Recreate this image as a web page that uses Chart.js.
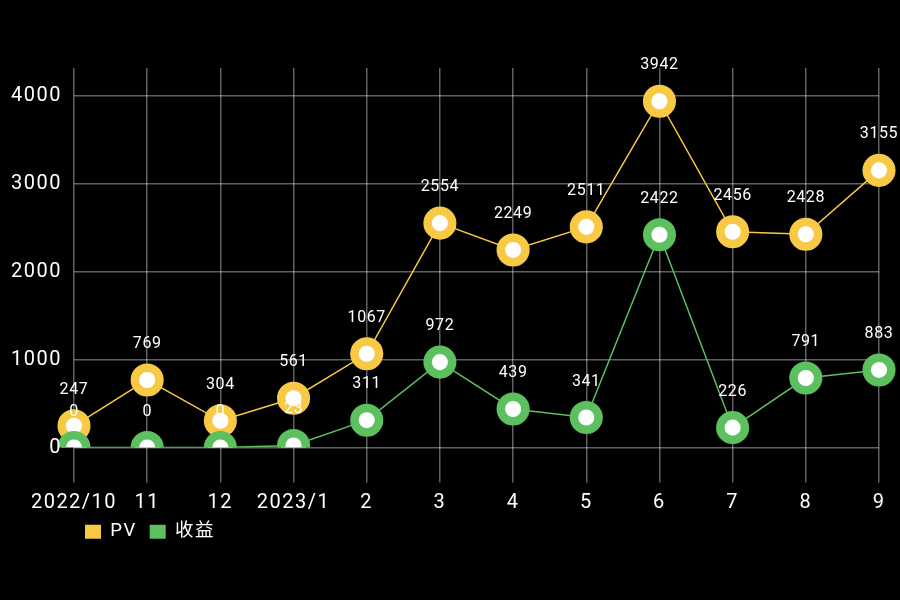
<!DOCTYPE html>
<html>
<head>
<meta charset="utf-8">
<script src="https://cdn.jsdelivr.net/npm/chart.js@4/dist/chart.umd.min.js"></script>
<style>
html,body{margin:0;padding:0;background:#000;}
#wrap{width:900px;height:600px;}
</style>
</head>
<body>
<div id="wrap"><canvas id="c" width="900" height="600"></canvas></div>
<script>
const categories = ['2022/10','11','12','2023/1','2','3','4','5','6','7','8','9'];
const pvValues = [247, 769, 304, 561, 1067, 2554, 2249, 2511, 3942, 2456, 2428, 3155];
const incomeValues = [0, 0, 0, 23, 311, 972, 439, 341, 2422, 226, 791, 883];
const yTicks = [0, 1000, 2000, 3000, 4000];
const seriesNames = ['PV', '收益'];

const FONT = "'Roboto','Noto Sans','Noto Sans CJK SC',sans-serif";
const YELLOW = '#F8C944';
const GREEN = '#5CC05E';

const spacing = {
  id: 'spacing',
  beforeUpdate(chart) { chart.ctx.letterSpacing = '1.5px'; },
  beforeDraw(chart) { chart.ctx.letterSpacing = '1.5px'; }
};

const valueLabels = {
  id: 'valueLabels',
  afterDatasetsDraw(chart) {
    const ctx = chart.ctx;
    ctx.save();
    ctx.letterSpacing = '0.6px';
    ctx.fillStyle = '#ffffff';
    ctx.font = '16px ' + FONT;
    ctx.textAlign = 'center';
    ctx.textBaseline = 'middle';
    chart.data.datasets.forEach((ds, i) => {
      const meta = chart.getDatasetMeta(i);
      meta.data.forEach((pt, j) => {
        ctx.fillText(String(ds.data[j]), pt.x, pt.y - 36);
      });
    });
    ctx.restore();
  }
};

const legendShift = {
  id: 'legendShift',
  afterLayout(chart) {
    const lg = chart.legend;
    if (lg) {
      const w = lg.right - lg.left;
      lg.left = 72;
      lg.right = 72 + w;
    }
  }
};

new Chart(document.getElementById('c'), {
  type: 'line',
  data: {
    labels: categories,
    datasets: [
      {
        label: seriesNames[0],
        data: pvValues,
        borderColor: YELLOW,
        backgroundColor: YELLOW,
        borderWidth: 1.5,
        pointRadius: 12.3,
        pointBorderWidth: 8.5,
        pointBackgroundColor: '#ffffff',
        pointBorderColor: YELLOW,
        tension: 0,
        order: 1
      },
      {
        label: seriesNames[1],
        data: incomeValues,
        borderColor: GREEN,
        backgroundColor: GREEN,
        borderWidth: 1.5,
        pointRadius: 12.3,
        pointBorderWidth: 8.5,
        pointBackgroundColor: '#ffffff',
        pointBorderColor: GREEN,
        tension: 0,
        order: 0
      }
    ]
  },
  options: {
    responsive: false,
    animation: false,
    devicePixelRatio: 1,
    layout: { padding: { top: 68, right: 21, bottom: 49, left: 0 } },
    plugins: {
      legend: {
        position: 'bottom',
        align: 'start',
        labels: {
          color: '#ffffff',
          font: { size: 18.5, family: FONT },
          boxWidth: 16,
          boxHeight: 14,
          padding: 13,
          sort: (a, b) => a.datasetIndex - b.datasetIndex,
          generateLabels(chart) {
            return chart.data.datasets.map((ds, i) => ({
              text: ds.label,
              fillStyle: ds.borderColor,
              strokeStyle: ds.borderColor,
              lineWidth: 0,
              fontColor: '#ffffff',
              datasetIndex: i,
              hidden: false
            }));
          }
        }
      },
      tooltip: { enabled: false }
    },
    scales: {
      x: {
        offset: false,
        grid: { color: 'rgba(255,255,255,0.38)', lineWidth: 1.5, tickLength: 35, drawTicks: true, tickColor: 'rgba(255,255,255,0.38)' },
        border: { display: false },
        ticks: { color: '#ffffff', font: { size: 20, family: FONT }, padding: 8, maxRotation: 0, autoSkip: false },
        afterFit(scale) { scale.height = 62; }
      },
      y: {
        min: 0,
        max: 4320,
        afterBuildTicks(scale) { scale.ticks = yTicks.map(v => ({ value: v })); },
        grid: { color: 'rgba(255,255,255,0.38)', lineWidth: 1.5, drawTicks: false },
        border: { display: false },
        ticks: { color: '#ffffff', font: { size: 20, family: FONT }, padding: 12, z: 1, callback: (v) => String(v) },
        afterFit(scale) { scale.width = 74; }
      }
    }
  },
  plugins: [spacing, valueLabels, legendShift]
});
</script>
</body>
</html>
